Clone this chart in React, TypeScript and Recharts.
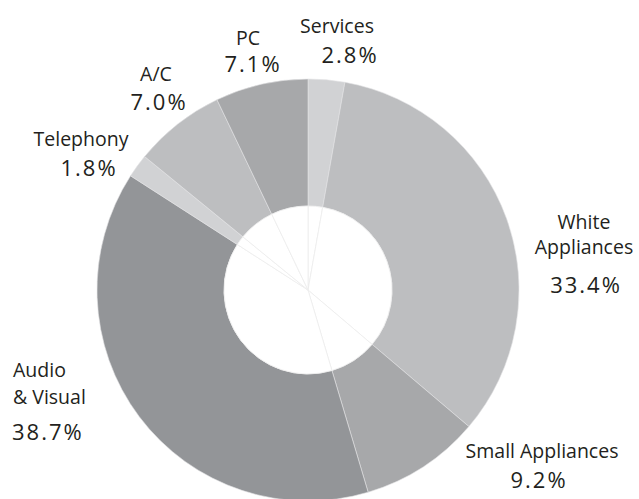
import { PieChart, Pie, Cell } from "recharts"

// Market share by category, clockwise from 12 o'clock
const CATEGORIES = [
  "Services",
  "White Appliances",
  "Small Appliances",
  "Audio & Visual",
  "Telephony",
  "A/C",
  "PC",
]
const SHARES = [2.8, 33.4, 9.2, 38.7, 1.8, 7.0, 7.1]
const NAME_LINES = [
  ["Services"],
  ["White", "Appliances"],
  ["Small Appliances"],
  ["Audio", "& Visual"],
  ["Telephony"],
  ["A/C"],
  ["PC"],
]

const COLORS = ["#d1d2d4", "#bdbec0", "#a7a8aa", "#939598", "#d1d2d4", "#bdbec0", "#a7a8aa"]

// label placement: name line baselines, percent anchor
type LabelPos = { x: number; lines: number[]; px: number; py: number; anchor: "middle" | "start" }
const LABEL_POS: LabelPos[] = [
  { x: 337, lines: [33], px: 350, py: 63, anchor: "middle" },
  { x: 584, lines: [229, 254], px: 586, py: 293, anchor: "middle" },
  { x: 542, lines: [458], px: 539, py: 488, anchor: "middle" },
  { x: 13, lines: [377, 404], px: 12, py: 440, anchor: "start" },
  { x: 81, lines: [146], px: 89, py: 176, anchor: "middle" },
  { x: 156, lines: [81], px: 159, py: 110, anchor: "middle" },
  { x: 248, lines: [45], px: 253, py: 72, anchor: "middle" },
]

const data = CATEGORIES.map((name, i) => ({ name, value: SHARES[i] }))

const FONT = "'Open Sans', 'Noto Sans', sans-serif"
const TEXT = "#231f20"

if (typeof document !== "undefined") document.body.style.margin = "0"

function renderLabel(props: any) {
  const i = props.index as number
  const pos = LABEL_POS[i]
  if (!pos) return null
  return (
    <g key={`lbl-${i}`}>
      {NAME_LINES[i].map((line, j) => (
        <text
          key={j}
          x={pos.x}
          y={pos.lines[j]}
          textAnchor={pos.anchor}
          fontFamily={FONT}
          fontSize={19.5}
          fill={TEXT}
        >
          {line}
        </text>
      ))}
      <text
        x={pos.px}
        y={pos.py}
        textAnchor={pos.anchor}
        fontFamily={FONT}
        fontSize={22}
        letterSpacing={2}
        fill={TEXT}
      >
        {`${SHARES[i].toFixed(1)}%`}
      </text>
    </g>
  )
}

export default function App() {
  return (
    <div style={{ width: 639, height: 499, background: "#fff" }}>
      <PieChart width={639} height={499} margin={{ top: 0, right: 0, bottom: 0, left: 0 }}>
        <Pie
          data={data}
          dataKey="value"
          nameKey="name"
          cx={308}
          cy={290}
          innerRadius={84}
          outerRadius={211}
          startAngle={90}
          endAngle={-270}
          stroke="#e2e3e4"
          strokeWidth={0.6}
          label={renderLabel}
          labelLine={false}
          isAnimationActive={false}
        >
          {data.map((_, i) => (
            <Cell key={`c-${i}`} fill={COLORS[i]} />
          ))}
        </Pie>
        <Pie
          data={data}
          dataKey="value"
          nameKey="name"
          cx={308}
          cy={290}
          innerRadius={0}
          outerRadius={84}
          startAngle={90}
          endAngle={-270}
          fill="#ffffff"
          stroke="#ececec"
          strokeWidth={0.8}
          isAnimationActive={false}
        />
      </PieChart>
    </div>
  )
}
